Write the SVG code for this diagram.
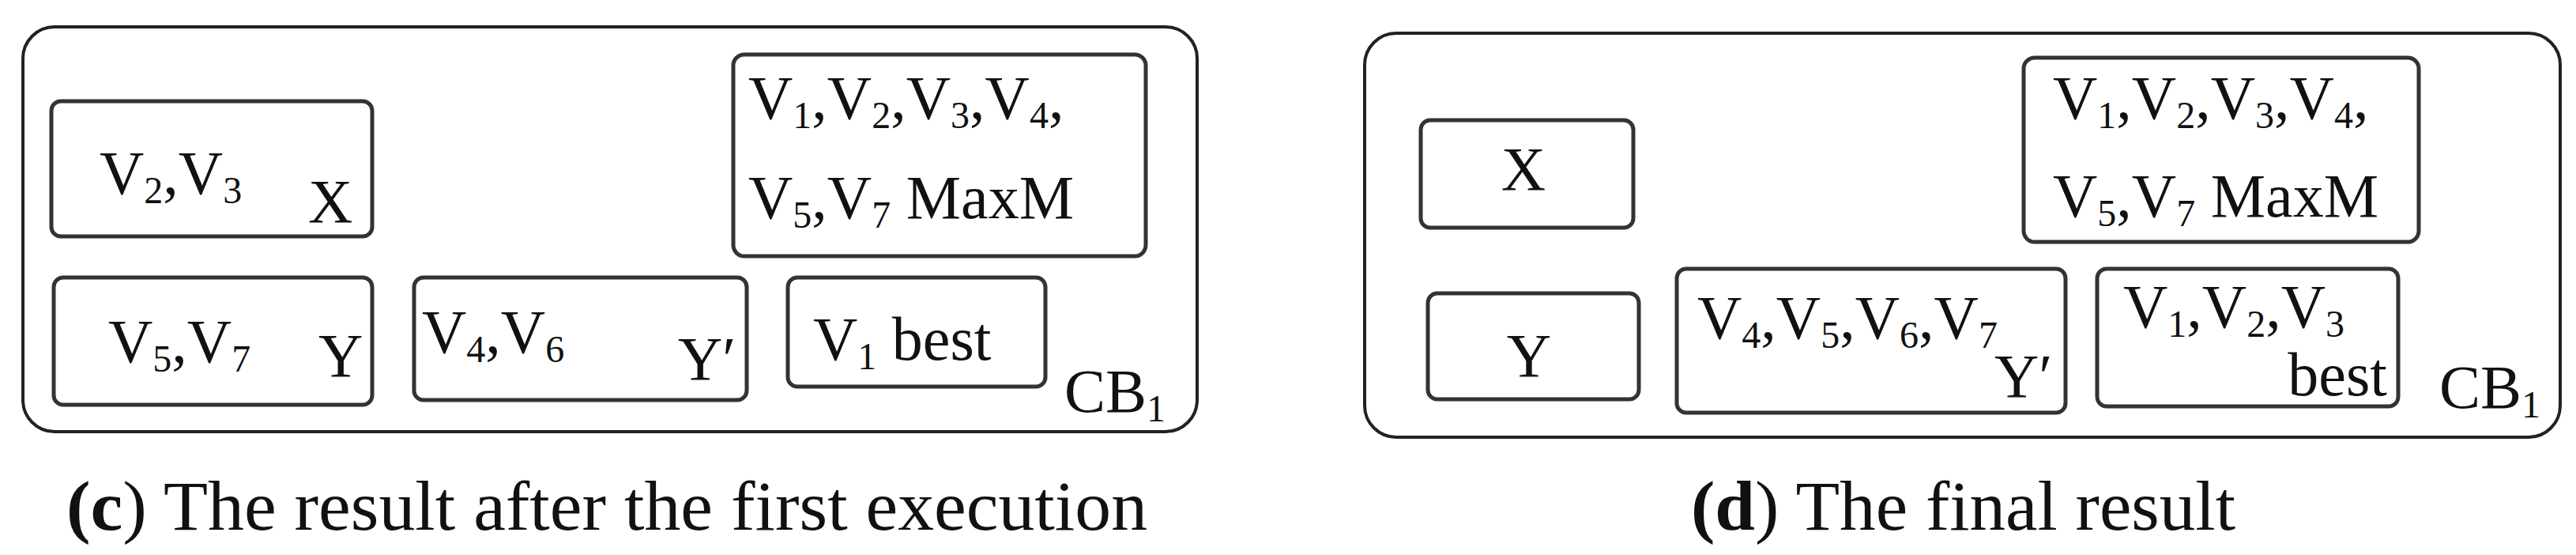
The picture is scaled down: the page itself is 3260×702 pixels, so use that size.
<svg xmlns="http://www.w3.org/2000/svg" width="3260" height="702" viewBox="0 0 3260 702">
<style>
.outer{fill:#fff;stroke:#222;stroke-width:4}
.box{fill:#fff;stroke:#333;stroke-width:5}
text{font-family:"Liberation Serif","DejaVu Serif",serif;font-size:78px;fill:#111}
.cap{font-size:88px}
.s{font-size:48px}
</style>
<rect width="3260" height="702" fill="#fff"/>
<g id="connectors"></g>
<g id="panel-c">
<rect class="outer" x="29" y="34" width="1486" height="512" rx="40"/>
<g id="c-x"><rect class="box" x="65" y="128" width="406" height="171" rx="12"/>
<text x="126" y="245">V<tspan class="s" dy="12">2</tspan><tspan dy="-12">,V</tspan><tspan class="s" dy="12">3</tspan></text><text x="390" y="281">X</text></g>
<g id="c-maxm"><rect class="box" x="928" y="69" width="522" height="255" rx="14"/>
<text x="947" y="150">V<tspan class="s" dy="12">1</tspan><tspan dy="-12">,V</tspan><tspan class="s" dy="12">2</tspan><tspan dy="-12">,V</tspan><tspan class="s" dy="12">3</tspan><tspan dy="-12">,V</tspan><tspan class="s" dy="12">4</tspan><tspan dy="-12">,</tspan></text>
<text x="947" y="276">V<tspan class="s" dy="12">5</tspan><tspan dy="-12">,V</tspan><tspan class="s" dy="12">7</tspan><tspan dy="-12"> MaxM</tspan></text></g>
<g id="c-y"><rect class="box" x="68" y="351" width="403" height="161" rx="12"/>
<text x="137" y="458">V<tspan class="s" dy="12">5</tspan><tspan dy="-12">,V</tspan><tspan class="s" dy="12">7</tspan></text><text x="403" y="476">Y</text></g>
<g id="c-y2"><rect class="box" x="524" y="351" width="421" height="155" rx="12"/>
<text x="534" y="446">V<tspan class="s" dy="12">4</tspan><tspan dy="-12">,V</tspan><tspan class="s" dy="12">6</tspan></text><text x="858" y="480">Y′</text></g>
<g id="c-best"><rect class="box" x="997" y="351" width="326" height="138" rx="12"/>
<text x="1029" y="455">V<tspan class="s" dy="12">1</tspan><tspan dy="-12"> best</tspan></text></g>
<text x="1347" y="521">CB<tspan class="s" dy="12">1</tspan></text>
<text class="cap" x="84" y="670" textLength="1368" lengthAdjust="spacingAndGlyphs"><tspan font-weight="bold">(c</tspan>) The result after the first execution</text>
</g>
<g id="panel-d">
<rect class="outer" x="1727" y="42" width="1513" height="511" rx="40"/>
<g id="d-x"><rect class="box" x="1798" y="152" width="269" height="136" rx="12"/>
<text x="1928" y="240" text-anchor="middle">X</text></g>
<g id="d-maxm"><rect class="box" x="2561" y="73" width="500" height="233" rx="14"/>
<text x="2598" y="150">V<tspan class="s" dy="12">1</tspan><tspan dy="-12">,V</tspan><tspan class="s" dy="12">2</tspan><tspan dy="-12">,V</tspan><tspan class="s" dy="12">3</tspan><tspan dy="-12">,V</tspan><tspan class="s" dy="12">4</tspan><tspan dy="-12">,</tspan></text>
<text x="2598" y="274">V<tspan class="s" dy="12">5</tspan><tspan dy="-12">,V</tspan><tspan class="s" dy="12">7</tspan><tspan dy="-12"> MaxM</tspan></text></g>
<g id="d-y"><rect class="box" x="1807" y="371" width="267" height="134" rx="12"/>
<text x="1935" y="476" text-anchor="middle">Y</text></g>
<g id="d-y2"><rect class="box" x="2122" y="340" width="492" height="182" rx="12"/>
<text x="2148" y="428">V<tspan class="s" dy="12">4</tspan><tspan dy="-12">,V</tspan><tspan class="s" dy="12">5</tspan><tspan dy="-12">,V</tspan><tspan class="s" dy="12">6</tspan><tspan dy="-12">,V</tspan><tspan class="s" dy="12">7</tspan></text><text x="2524" y="502">Y′</text></g>
<g id="d-best"><rect class="box" x="2654" y="340" width="381" height="174" rx="12"/>
<text x="2687" y="414">V<tspan class="s" dy="12">1</tspan><tspan dy="-12">,V</tspan><tspan class="s" dy="12">2</tspan><tspan dy="-12">,V</tspan><tspan class="s" dy="12">3</tspan></text><text x="3021" y="500" text-anchor="end">best</text></g>
<text x="3087" y="516">CB<tspan class="s" dy="12">1</tspan></text>
<text class="cap" x="2140" y="670" textLength="689" lengthAdjust="spacingAndGlyphs"><tspan font-weight="bold">(d</tspan>) The final result</text>
</g>
</svg>
